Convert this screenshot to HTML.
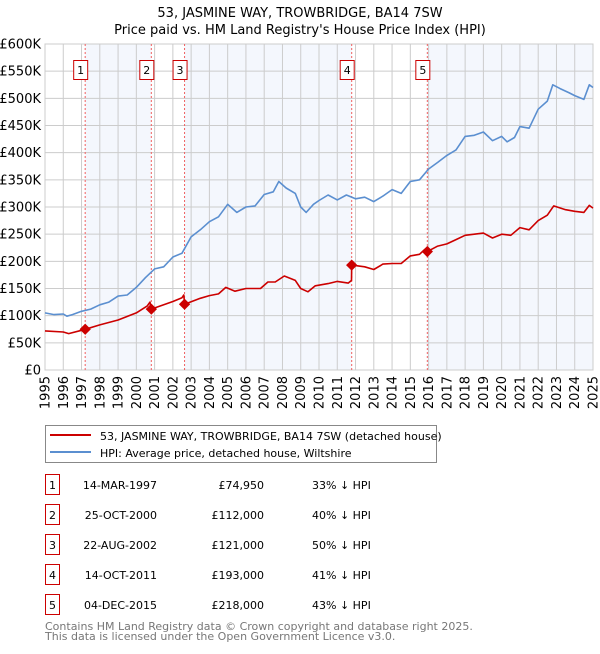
<!DOCTYPE html>
<html><head><meta charset="utf-8"><style>
body{margin:0;background:#fff;font-family:"DejaVu Sans","Liberation Sans",sans-serif;}
svg text{font-family:"DejaVu Sans","Liberation Sans",sans-serif;}
</style></head><body>
<svg id="chart" width="600" height="650" viewBox="0 0 600 650" xmlns="http://www.w3.org/2000/svg">
<text x="300" y="17" font-size="13" text-anchor="middle">53, JASMINE WAY, TROWBRIDGE, BA14 7SW</text>
<text x="300" y="34" font-size="13" text-anchor="middle">Price paid vs. HM Land Registry's House Price Index (HPI)</text>
<g id="plot"></g>
<g>
<rect x="45.5" y="425.5" width="391" height="37" fill="#fff" stroke="#888"/>
<line x1="50" y1="435" x2="91" y2="435" stroke="#cc0000" stroke-width="2"/>
<text x="100" y="440" font-size="11">53, JASMINE WAY, TROWBRIDGE, BA14 7SW (detached house)</text>
<line x1="50" y1="452" x2="91" y2="452" stroke="#5b8fd0" stroke-width="2"/>
<text x="100" y="457" font-size="11">HPI: Average price, detached house, Wiltshire</text>
</g>
<g id="table"></g>
<text x="45" y="630" font-size="11" fill="#777">Contains HM Land Registry data © Crown copyright and database right 2025.</text>
<text x="45" y="640" font-size="11" fill="#777">This data is licensed under the Open Government Licence v3.0.</text>
</svg>
<script>
const hpiYears=[1995,1995.5,1996,1996.2,1996.5,1997,1997.5,1998,1998.5,1999,1999.5,2000,2000.5,2001,2001.5,2002,2002.5,2003,2003.5,2004,2004.5,2005,2005.5,2006,2006.5,2007,2007.5,2007.8,2008.2,2008.7,2009,2009.3,2009.7,2010,2010.5,2011,2011.5,2012,2012.5,2013,2013.5,2014,2014.5,2015,2015.5,2016,2016.5,2017,2017.5,2018,2018.5,2019,2019.5,2020,2020.3,2020.7,2021,2021.5,2022,2022.5,2022.8,2023.2,2023.7,2024,2024.5,2024.8,2025];
const hpiValues=[105,102,103,99,102,108,112,120,125,136,138,152,170,186,190,208,215,245,258,273,282,305,290,300,302,323,328,347,335,325,300,290,305,312,322,313,322,315,318,310,320,332,325,347,350,370,382,395,405,430,432,438,422,430,420,428,448,445,480,495,525,518,510,505,498,525,520];
const priceYears=[1995,1996,1996.3,1997,1997.2,1998,1999,2000,2000.6,2000.75,2000.82,2001.5,2002,2002.5,2002.6,2002.64,2003.5,2004,2004.5,2004.9,2005.4,2006,2006.8,2007.2,2007.6,2008.1,2008.7,2009,2009.4,2009.8,2010.5,2011,2011.6,2011.78,2011.79,2012.5,2013,2013.5,2014,2014.5,2015,2015.5,2015.8,2015.93,2016.5,2017,2017.5,2018,2019,2019.5,2020,2020.5,2021,2021.5,2022,2022.5,2022.85,2023.5,2024,2024.5,2024.8,2025];
const priceValues=[72,70,67,73,74.95,83,92,105,118,125,112,120,126,133,138,121,132,137,140,152,145,150,150,162,162,173,165,150,144,155,159,163,160,165,193,190,185,195,196,196,210,213,222,218,228,232,240,248,252,243,250,248,262,258,275,285,302,295,292,290,303,298];
const saleLabels=["1","2","3","4","5"];
const saleYears=[1997.20,2000.82,2002.64,2011.79,2015.93];
const saleDates=["14-MAR-1997","25-OCT-2000","22-AUG-2002","14-OCT-2011","04-DEC-2015"];
const salePrices=[74.95,112,121,193,218];
const salePriceText=["£74,950","£112,000","£121,000","£193,000","£218,000"];
const saleDiff=["33% ↓ HPI","40% ↓ HPI","50% ↓ HPI","41% ↓ HPI","43% ↓ HPI"];
const yTicks=[0,50,100,150,200,250,300,350,400,450,500,550,600];
const yTickLabels=["£0","£50K","£100K","£150K","£200K","£250K","£300K","£350K","£400K","£450K","£500K","£550K","£600K"];
const xTicks=[1995,1996,1997,1998,1999,2000,2001,2002,2003,2004,2005,2006,2007,2008,2009,2010,2011,2012,2013,2014,2015,2016,2017,2018,2019,2020,2021,2022,2023,2024,2025];

const X0=45,X1=593,Y0=370,Y1=44;
const sx=v=>X0+(v-1995)/30*(X1-X0);
const sy=v=>Y0-v/600*(Y0-Y1);
const NS="http://www.w3.org/2000/svg";
const plot=document.getElementById('plot');
function mk(tag,attrs,parent){const e=document.createElementNS(NS,tag);for(const k in attrs)e.setAttribute(k,attrs[k]);(parent||plot).appendChild(e);return e;}

const bounds=[...saleYears,2025];
for(let i=0;i<bounds.length-1;i+=2){
  const r=mk('rect',{x:sx(bounds[i]),y:Y1,width:sx(bounds[i+1])-sx(bounds[i]),height:Y0-Y1,fill:'#eef3fc',opacity:0.65});
  
  
}
yTicks.forEach((t,i)=>{
  const l=mk('line',{x1:X0,x2:X1,y1:sy(t),y2:sy(t),stroke:'#ccc','stroke-width':1});
  
  
  const tx=mk('text',{x:X0-4,y:sy(t)+4.5,'font-size':13,'text-anchor':'end'});
  tx.textContent=yTickLabels[i];
  
  
});
xTicks.forEach(t=>{
  const l=mk('line',{x1:sx(t),x2:sx(t),y1:Y1,y2:Y0,stroke:'#ccc','stroke-width':1});
  
  
  const tx=mk('text',{x:0,y:0,'font-size':13,'text-anchor':'end',transform:`translate(${sx(t)+4.5},${Y0+6}) rotate(-90)`});
  tx.textContent=t;
  
  
});
mk('rect',{x:X0,y:Y1,width:X1-X0,height:Y0-Y1,fill:'none',stroke:'#ccc'});
saleYears.forEach((s,i)=>{
  const l=mk('line',{x1:sx(s),x2:sx(s),y1:Y1,y2:Y0,stroke:'#f06060','stroke-width':1,'stroke-dasharray':'2,2'});
  
  
  const r=mk('rect',{x:sx(s)-11.5,y:60.5,width:14,height:19,fill:'#fff',stroke:'#cc0000'});
  
  
  const t=mk('text',{x:sx(s)-4.5,y:74,'font-size':11,'text-anchor':'middle'});
  t.textContent=saleLabels[i];
  
  
});
function path(xs,ys,color,name){
  const d=xs.map((x,i)=>(i?'L':'M')+sx(x).toFixed(1)+','+sy(ys[i]).toFixed(1)).join('');
  const p=mk('path',{d:d,fill:'none',stroke:color,'stroke-width':1.6,'stroke-linejoin':'round'});
  
  
}
path(hpiYears,hpiValues,'#5b8fd0','hpi-line');
path(priceYears,priceValues,'#cc0000','price-paid-line');
saleYears.forEach((s,i)=>{
  const c=mk('rect',{x:sx(s)-4,y:sy(salePrices[i])-4,width:8,height:8,fill:'#cc0000',transform:`rotate(45 ${sx(s)} ${sy(salePrices[i])})`});
  
  
});
const tbl=document.getElementById('table');
saleLabels.forEach((lb,i)=>{
  const y=485+i*30;
  const g=mk('g',{},tbl);
  
  
  mk('rect',{x:45.5,y:y-10.5,width:14,height:20,fill:'#fff',stroke:'#cc0000'},g);
  const a=mk('text',{x:52.5,y:y+4,'font-size':11,'text-anchor':'middle'},g);a.textContent=lb;
  const b=mk('text',{x:157,y:y+4,'font-size':11,'text-anchor':'end'},g);b.textContent=saleDates[i];
  const c=mk('text',{x:264,y:y+4,'font-size':11,'text-anchor':'end'},g);c.textContent=salePriceText[i];
  const d=mk('text',{x:312,y:y+4,'font-size':11},g);d.textContent=saleDiff[i];
});
</script>
</body></html>
